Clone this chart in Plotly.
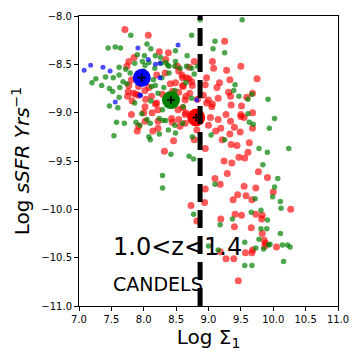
import plotly.graph_objects as go

# galaxies by class: position in Log Sigma_1 vs Log sSFR
red_x = [9.25, 9.06, 9.08, 9.50, 9.28, 9.75, 9.33, 9.17, 9.13, 9.31, 9.34, 9.68, 9.59, 9.15, 9.06, 9.35, 9.51, 9.68, 9.27, 9.50,
         9.03, 9.15, 9.34, 9.50, 9.55, 9.40, 9.68, 9.11, 9.19, 9.33, 9.49, 9.21, 9.35, 9.44, 9.63, 9.61, 9.47, 9.56, 9.24, 9.36,
         9.77, 9.29, 9.10, 9.91, 9.18, 9.55, 9.73, 10.00, 9.45, 9.58, 9.38, 9.67, 10.27, 9.41, 9.51, 9.73, 9.83,
         9.82, 9.19, 9.40, 9.66, 9.83, 9.86, 9.88, 9.87, 10.05, 9.57, 9.67, 9.68, 9.18, 9.27, 9.39, 9.46,
         8.73, 8.94, 8.82,
         7.90, 8.14, 8.44, 8.54, 8.78, 8.46, 8.32, 8.95, 8.95,
         7.71, 8.07, 8.24, 8.38, 7.85, 7.77, 8.34, 8.78, 8.52, 8.70, 8.54, 8.60, 8.70, 8.75, 8.08, 7.77, 7.75, 7.88, 7.82, 8.03,
         8.18, 8.00, 8.13, 8.60, 8.65, 8.44, 8.54, 8.65, 8.83, 8.60, 8.49, 8.29, 8.97, 9.00,
         7.74, 8.20, 8.33, 8.59, 8.66, 8.74, 7.76, 7.84, 7.92, 8.02, 8.12, 8.20, 8.02, 7.81, 8.22, 8.53, 8.64, 8.43, 8.22, 8.02,
         7.92, 8.22, 8.56, 8.64, 8.92, 8.97, 9.05, 9.00, 8.82, 8.95, 7.81, 7.92, 8.41, 8.61, 8.71, 8.64, 8.02]
red_y = [-8.26, -8.47, -8.54, -8.52, -8.56, -8.65, -8.66, -8.69, -8.74, -8.79, -8.83, -8.80, -8.84, -8.85, -8.91, -8.92, -8.93, -9.00, -9.02, -9.02,
         -9.05, -9.07, -9.09, -9.04, -9.05, -9.15, -9.16, -9.19, -9.16, -9.22, -9.20, -9.28, -9.33, -9.34, -9.31, -9.41, -9.46, -9.47, -9.50, -9.52,
         -9.61, -9.63, -9.68, -9.67, -9.74, -9.76, -9.78, -9.82, -9.85, -9.86, -9.90, -9.90, -10.00, -10.05, -10.06, -10.05, -10.06,
         -10.10, -10.10, -10.18, -10.19, -10.25, -10.32, -10.35, -10.38, -10.39, -10.45, -10.45, -10.42, -10.44, -10.51, -10.51, -10.74,
         -9.96, -9.93, -10.12,
         -9.19, -9.19, -9.10, -9.07, -9.28, -9.29, -9.40, -9.37, -9.79,
         -8.14, -8.20, -8.37, -8.38, -8.43, -8.47, -8.45, -8.47, -8.52, -8.53, -8.57, -8.64, -8.65, -8.72, -8.74, -8.72, -8.83, -8.81, -8.88, -8.86,
         -8.91, -9.00, -9.00, -8.95, -9.00, -8.78, -8.79, -8.83, -8.86, -8.72, -8.69, -8.81, -8.64, -8.87,
         -8.52, -8.61, -8.59, -8.61, -8.64, -8.68, -8.78, -8.80, -8.82, -8.77, -8.83, -8.90, -8.94, -9.02, -8.97, -8.97, -9.02, -9.06, -9.09, -9.09,
         -9.14, -9.16, -9.14, -9.11, -8.82, -8.90, -8.94, -9.13, -9.18, -8.71, -8.66, -8.73, -8.70, -8.73, -8.80, -8.87, -8.68]

green_x = [9.52, 9.10, 9.07, 9.25, 9.41, 9.39, 9.47, 9.61, 9.67, 9.92, 9.61,
           9.63, 9.69, 10.02, 9.94, 9.04, 9.25, 9.78, 9.91, 10.24, 9.84, 10.07, 9.10, 10.02, 9.99, 9.72, 10.11, 10.12, 9.66, 9.81,
           9.91, 9.37, 9.18, 9.81, 9.90, 10.11, 9.78, 9.56, 9.93, 9.95, 10.14, 10.22, 10.26, 9.73, 9.85, 9.15, 10.16, 9.56, 9.67,
           8.77, 9.00,
           7.58, 7.70, 7.88, 7.94, 8.05, 8.24, 8.34, 8.60, 7.54, 8.08, 8.10, 8.24, 8.49, 8.75, 8.42, 8.70, 8.77, 8.29, 8.29,
           7.80, 8.87, 8.49, 8.05, 8.11, 7.64, 7.56, 7.45, 8.01, 8.18, 8.67, 7.98, 8.08, 8.26, 8.49, 8.39, 8.83, 7.62, 7.72,
           7.41, 7.26, 7.20, 7.53, 7.62, 8.39, 8.78, 8.18, 7.63, 7.47, 7.62, 8.11, 7.47, 8.29, 8.65, 8.31, 8.34, 8.74,
           7.86, 8.02, 8.17, 8.27, 8.37, 8.48, 8.56, 8.66, 8.74, 8.12, 8.22, 7.86, 7.97, 8.61, 8.30, 8.10, 8.38, 8.48,
           7.79, 7.74, 8.15, 8.28, 8.48, 8.74, 7.35, 7.52, 7.60, 7.68, 7.90, 7.95, 8.00]
green_y = [-8.04, -8.26, -8.34, -8.38, -8.71, -8.77, -8.83, -8.86, -8.81, -8.86, -9.01,
           -9.10, -9.12, -9.06, -9.16, -9.23, -9.28, -9.37, -9.41, -9.37, -9.54, -9.68, -9.74, -9.77, -9.87, -9.89, -9.92, -9.99, -10.03, -10.01,
           -10.11, -10.10, -10.16, -10.20, -10.20, -10.25, -10.31, -10.34, -10.37, -10.36, -10.37, -10.37, -10.39, -10.40, -10.41, -10.42, -10.54, -10.58, -10.58,
           -10.05, -10.38,
           -9.10, -9.11, -9.10, -9.13, -9.07, -9.06, -9.08, -9.11, -9.24, -9.25, -9.28, -9.22, -9.21, -9.25, -9.43, -9.45, -9.48, -9.65, -9.78,
           -8.20, -8.04, -8.36, -8.29, -8.34, -8.33, -8.32, -8.33, -8.41, -8.41, -8.41, -8.47, -8.48, -8.43, -8.47, -8.52, -8.52, -8.53, -8.55,
           -8.63, -8.65, -8.69, -8.64, -8.61, -8.59, -8.60, -8.72, -8.74, -8.75, -8.84, -8.88, -8.93, -8.97, -8.69, -8.74, -8.48, -8.20,
           -8.49, -8.51, -8.54, -8.49, -8.51, -8.52, -8.54, -8.52, -8.54, -8.73, -8.80, -8.90, -9.01, -8.94, -9.08, -9.11, -9.18, -9.13,
           -8.59, -8.70, -8.66, -8.64, -8.77, -8.85, -8.72, -8.78, -8.95, -8.68, -8.40, -8.62, -8.57]

blue_x = [7.91, 8.53, 8.18, 7.48, 7.08, 7.18, 7.37, 8.25, 7.95, 7.56, 7.94, 8.25, 8.82, 8.07]
blue_y = [-8.33, -8.30, -8.50, -8.57, -8.56, -8.51, -8.53, -8.64, -8.82, -8.89, -8.82, -8.49, -8.87, -8.45]

# class medians
mean_x = [7.97, 8.42, 8.81]
mean_y = [-8.64, -8.87, -9.05]
mean_colors = ["#0000ff", "#008000", "#ff0000"]
mean_err_x = [0.045, 0.045, 0.045]
mean_err_y = [0.03, 0.03, 0.03]

divide_x = 8.87

fig = go.Figure()
fig.add_trace(go.Scatter(x=red_x, y=red_y, mode="markers",
                         marker=dict(color="rgba(255,0,0,0.65)", size=7)))
fig.add_trace(go.Scatter(x=green_x, y=green_y, mode="markers",
                         marker=dict(color="rgba(0,128,0,0.7)", size=5.5)))
fig.add_trace(go.Scatter(x=blue_x, y=blue_y, mode="markers",
                         marker=dict(color="rgba(0,0,255,0.7)", size=5)))
fig.add_trace(go.Scatter(x=mean_x, y=mean_y, mode="markers",
                         marker=dict(color=mean_colors, size=18)))
# error bars in their own trace so they sit on top of the big circles
fig.add_trace(go.Scatter(
    x=mean_x, y=mean_y, mode="markers",
    marker=dict(color="black", size=1, opacity=0),
    error_x=dict(type="data", array=mean_err_x, color="black", thickness=1.5, width=1),
    error_y=dict(type="data", array=mean_err_y, color="black", thickness=1.5, width=1),
))

fig.add_vline(x=divide_x, line=dict(color="black", width=5, dash="18px,8px"))

fig.add_annotation(x=7.5, y=-10.39, text="1.0<z<1.4", showarrow=False,
                   xanchor="left", yanchor="middle", font=dict(size=24, color="black"))
fig.add_annotation(x=7.5, y=-10.77, text="CANDELS", showarrow=False,
                   xanchor="left", yanchor="middle", font=dict(size=19, color="black"))

axis_style = dict(showgrid=False, zeroline=False, showline=True, mirror=True,
                  linecolor="black", linewidth=1, ticks="outside", ticklen=4,
                  tickcolor="black", tickfont=dict(size=10, color="black"),
                  tickformat=".1f", dtick=0.5, automargin=False)

# page body adds an 8px offset, so the figure is 352 wide/high
fig.update_layout(
    width=352, height=352,
    margin=dict(l=71, r=22, t=8, b=54),
    paper_bgcolor="white", plot_bgcolor="white",
    font=dict(family="DejaVu Sans", color="black"),
    showlegend=False,
    xaxis=dict(range=[7, 11], title=dict(text="Log Σ<sub>1</sub>", font=dict(size=20), standoff=4), **axis_style),
    yaxis=dict(range=[-11, -8], title=dict(text="Log <i>sSFR Yrs</i><sup>−1</sup>", font=dict(size=20), standoff=6), **axis_style),
)

fig.write_html("out.html")
